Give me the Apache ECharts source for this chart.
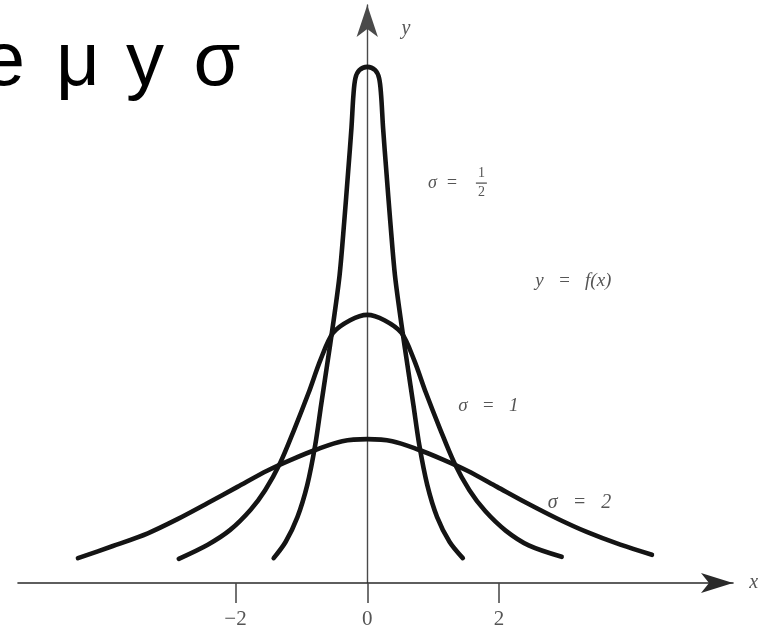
<!DOCTYPE html>
<html>
<head>
<meta charset="utf-8">
<script src="https://cdn.jsdelivr.net/npm/echarts@6/dist/echarts.min.js"></script>
<style>
  html, body { margin: 0; padding: 0; background: #ffffff; }
  #chart { width: 778px; height: 636px; }
</style>
</head>
<body>
<div id="chart"></div>
<script>
// Bell curves y = f(x) for three spreads, as [x, y] pairs
const sigmaHalf = [
  [-1.42, 0.037], [-1.24, 0.061], [-1.06, 0.098], [-0.91, 0.146], [-0.79, 0.205],
  [-0.70, 0.265], [-0.61, 0.324], [-0.52, 0.384], [-0.42, 0.458], [-0.35, 0.537],
  [-0.29, 0.612], [-0.24, 0.677], [-0.21, 0.726], [-0.18, 0.751], [-0.12, 0.763],
  [0, 0.768],
  [0.12, 0.763], [0.18, 0.751], [0.21, 0.726], [0.24, 0.677], [0.29, 0.612],
  [0.35, 0.537], [0.42, 0.458], [0.52, 0.384], [0.61, 0.324], [0.70, 0.265],
  [0.79, 0.205], [0.91, 0.146], [1.06, 0.098], [1.25, 0.061], [1.45, 0.037]
];
const sigmaOne = [
  [-2.86, 0.036], [-2.42, 0.057], [-2.08, 0.079], [-1.77, 0.109], [-1.55, 0.138],
  [-1.32, 0.179], [-1.11, 0.228], [-0.89, 0.283], [-0.71, 0.332], [-0.52, 0.372],
  [-0.26, 0.391],
  [0, 0.399],
  [0.26, 0.391], [0.52, 0.372], [0.71, 0.332], [0.89, 0.283], [1.11, 0.228],
  [1.32, 0.179], [1.55, 0.138], [1.79, 0.107], [2.10, 0.078], [2.45, 0.056], [2.95, 0.039]
];
const sigmaTwo = [
  [-4.39, 0.037], [-3.86, 0.055], [-3.33, 0.074], [-2.88, 0.095], [-2.42, 0.119],
  [-1.97, 0.143], [-1.52, 0.167], [-1.14, 0.184], [-0.76, 0.199], [-0.38, 0.211],
  [0, 0.214],
  [0.38, 0.211], [0.76, 0.199], [1.14, 0.184], [1.52, 0.167], [1.97, 0.143],
  [2.42, 0.119], [2.88, 0.096], [3.33, 0.076], [3.84, 0.057], [4.32, 0.042]
];
const xTickValues = [-2, 0, 2];
const titleGlyphs = ['e', 'μ', 'y', 'σ'];

const chart = echarts.init(document.getElementById('chart'), null, { renderer: 'canvas' });

const ink = '#141414';
const serif = '"Liberation Serif", "DejaVu Serif", serif';

function curve(name, data) {
  return {
    name: name,
    type: 'line',
    data: data,
    smooth: 0.3,
    showSymbol: false,
    silent: true,
    lineStyle: { color: ink, width: 4.6, cap: 'round', join: 'round' },
    z: 3
  };
}

chart.setOption({
  backgroundColor: '#ffffff',
  animation: false,
  grid: { left: 18, right: 45, top: 5, bottom: 53, containLabel: false },
  xAxis: {
    type: 'value',
    min: -5.3,
    max: 5.55,
    splitLine: { show: false },
    axisLine: {
      show: true,
      onZero: false,
      symbol: ['none', 'arrow'],
      symbolSize: [15, 32],
      lineStyle: { color: '#2a2a2a', width: 1.6 }
    },
    axisTick: {
      show: true,
      customValues: xTickValues,
      length: 20,
      lineStyle: { color: '#444', width: 1.5 }
    },
    axisLabel: {
      show: true,
      customValues: xTickValues,
      margin: 26,
      color: '#555',
      fontFamily: serif,
      fontSize: 21,
      formatter: function (v) { return v < 0 ? '\u2212' + Math.abs(v) : String(v); }
    }
  },
  yAxis: {
    type: 'value',
    min: 0,
    max: 0.86,
    splitLine: { show: false },
    axisTick: { show: false },
    axisLabel: { show: false },
    axisLine: {
      show: true,
      onZero: true,
      symbol: ['none', 'arrow'],
      symbolSize: [16, 32],
      lineStyle: { color: '#4a4a4a', width: 1.4 }
    }
  },
  series: [
    curve('σ = 1/2', sigmaHalf),
    curve('σ = 1', sigmaOne),
    curve('σ = 2', sigmaTwo)
  ]
});

// Annotations placed in data coordinates
function px(pt) { return chart.convertToPixel({ gridIndex: 0 }, pt); }

const labelColor = '#555';
const pHalf = px([0.92, 0.595]);
const pFx = px([2.55, 0.449]);
const pOne = px([1.38, 0.263]);
const pTwo = px([2.74, 0.119]);
const pYName = px([0.52, 0.824]);
const pXName = px([5.95, 0.0]);

function note(text, p, size, italic) {
  return {
    type: 'text',
    x: p[0],
    y: p[1],
    silent: true,
    style: {
      text: text,
      font: (italic ? 'italic ' : '') + size + 'px ' + serif,
      fill: labelColor,
      align: 'left',
      verticalAlign: 'middle'
    },
    z: 10
  };
}

// Heading glyphs, spaced out along one baseline
const glyphCentres = [4, 78, 145, 217];
const heading = titleGlyphs.map(function (g, i) {
  return {
    type: 'text',
    x: glyphCentres[i],
    y: 64,
    silent: true,
    style: {
      text: g,
      font: '76px "Liberation Sans", Arial, sans-serif',
      fill: '#000',
      align: 'center',
      verticalAlign: 'middle'
    },
    z: 10
  };
});

chart.setOption({
  graphic: heading.concat([
    note('σ  =', pHalf, 18, true),
    note('1', [pHalf[0] + 50, pHalf[1] - 10], 14, false),
    {
      type: 'line',
      silent: true,
      shape: { x1: pHalf[0] + 48, y1: pHalf[1], x2: pHalf[0] + 59, y2: pHalf[1] },
      style: { stroke: labelColor, lineWidth: 1.3 },
      z: 10
    },
    note('2', [pHalf[0] + 50, pHalf[1] + 9], 14, false),
    note('y   =   f(x)', pFx, 19, true),
    note('σ   =   1', pOne, 19, true),
    note('σ   =   2', pTwo, 20, true),
    note('y', pYName, 20, true),
    note('x', [pXName[0] - 10, pXName[1]], 20, true)
  ])
});
</script>
</body>
</html>
